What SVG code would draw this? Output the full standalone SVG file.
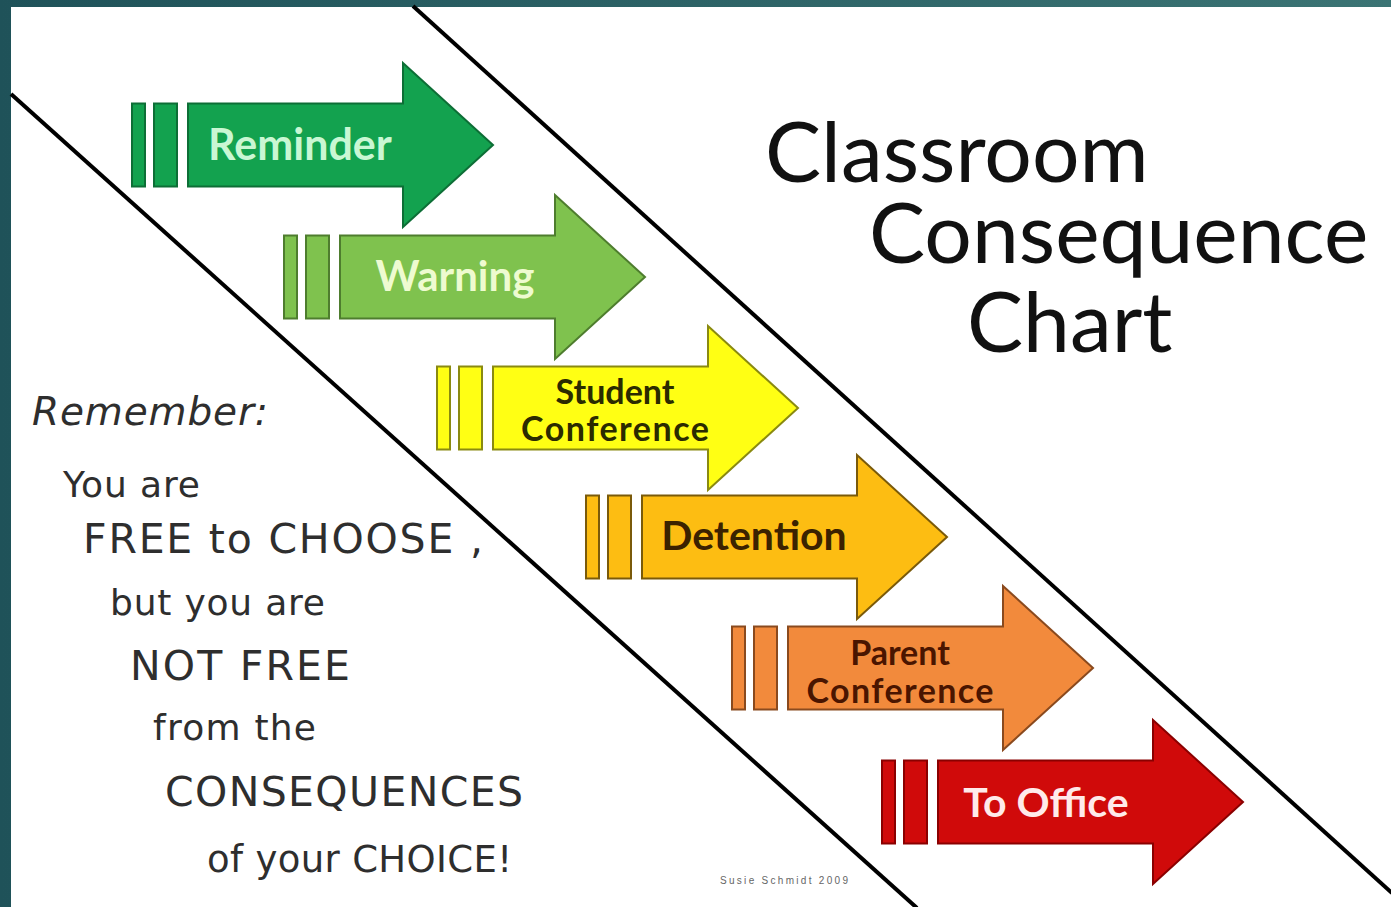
<svg xmlns="http://www.w3.org/2000/svg" width="1391" height="907" viewBox="0 0 1391 907">
<defs>
<linearGradient id="teal" x1="0" y1="0" x2="1" y2="0">
<stop offset="0" stop-color="#1f5259"/>
<stop offset="1" stop-color="#3b7474"/>
</linearGradient>
<g id="arrowShape">
<rect x="-56" y="-41.5" width="13" height="83"/>
<rect x="-34" y="-41.5" width="23" height="83"/>
<path d="M0,-41.5 H215 V-82 L305,0 L215,82 V41.5 H0 Z"/>
</g>
</defs>
<style>
.lbl{font-family:Lato,"Open Sans","Liberation Sans",sans-serif;font-weight:bold;text-anchor:middle}
.title{font-family:Lato,"Open Sans","Liberation Sans",sans-serif;font-size:84px;fill:#111}
.hand{font-family:"DejaVu Sans","Liberation Sans",sans-serif;fill:#2e2e2e}
.it{font-style:italic}
.arrow{stroke-width:2}
.conn{stroke:#000;stroke-width:4;fill:none}
</style>
<rect x="0" y="0" width="1391" height="907" fill="url(#teal)"/>
<rect x="11" y="7" width="1380" height="900" fill="#ffffff"/>

<g id="connectors">
<line class="conn" x1="11" y1="94" x2="917" y2="908"/>
<line class="conn" x1="413" y1="6" x2="1392" y2="893"/>
</g>

<g id="node-reminder" transform="translate(188,145)">
<use href="#arrowShape" class="arrow" fill="#13a24f" stroke="#0d6e36"/>
<text class="lbl" x="112" y="15" font-size="43" fill="#c9f7d3">Reminder</text>
</g>
<g id="node-warning" transform="translate(340,277)">
<use href="#arrowShape" class="arrow" fill="#7fc24e" stroke="#4e7d2e"/>
<text class="lbl" x="115" y="14" font-size="42" fill="#eefbd0">Warning</text>
</g>
<g id="node-student" transform="translate(493,408)">
<use href="#arrowShape" class="arrow" fill="#ffff14" stroke="#8a8a10"/>
<text class="lbl" x="122" y="-4" font-size="34" fill="#2b2b00">Student</text>
<text class="lbl" x="122" y="33" font-size="34" fill="#2b2b00" textLength="188">Conference</text>
</g>
<g id="node-detention" transform="translate(642,537)">
<use href="#arrowShape" class="arrow" fill="#fdbd12" stroke="#7a5a0a"/>
<text class="lbl" x="112" y="13" font-size="41" fill="#3b2200">Detention</text>
</g>
<g id="node-parent" transform="translate(788,668)">
<use href="#arrowShape" class="arrow" fill="#f28a3c" stroke="#8a4a1e"/>
<text class="lbl" x="112" y="-3" font-size="34" fill="#4a1500">Parent</text>
<text class="lbl" x="112" y="35" font-size="34" fill="#4a1500" textLength="187">Conference</text>
</g>
<g id="node-office" transform="translate(938,802)">
<use href="#arrowShape" class="arrow" fill="#d00a0a" stroke="#8a0000"/>
<text class="lbl" x="108" y="15" font-size="41" fill="#ffeaea">To Office</text>
</g>

<g id="title">
<text class="title" x="765" y="182">Classroom</text>
<text class="title" x="869" y="263">Consequence</text>
<text class="title" x="967" y="352">Chart</text>
</g>

<g id="remember">
<text class="hand it" x="32" y="425" font-size="39" textLength="236">Remember:</text>
<text class="hand" x="63" y="497" font-size="36" textLength="137">You are</text>
<text class="hand" x="83" y="553" font-size="41" textLength="400">FREE to CHOOSE ,</text>
<text class="hand" x="110" y="615" font-size="36" textLength="215">but you are</text>
<text class="hand" x="130" y="680" font-size="41" textLength="220">NOT FREE</text>
<text class="hand" x="153" y="740" font-size="36" textLength="163">from the</text>
<text class="hand" x="165" y="806" font-size="41" textLength="358">CONSEQUENCES</text>
<text class="hand" x="207" y="872" font-size="37" textLength="305">of your CHOICE!</text>
</g>

<text x="720" y="884" font-family="Liberation Sans, sans-serif" font-size="10" fill="#666" textLength="128">Susie Schmidt 2009</text>
</svg>
